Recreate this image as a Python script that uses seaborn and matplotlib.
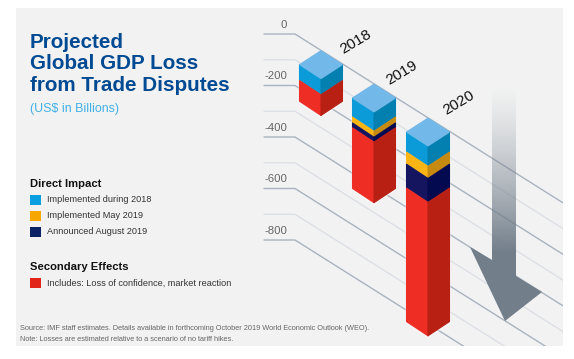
import numpy as np
import pandas as pd
import matplotlib.pyplot as plt
import matplotlib.transforms as mtransforms
from matplotlib.patches import Rectangle, Polygon
from matplotlib.colors import to_rgb
import seaborn as sns

# stack sizes, US$ billions lost
years = ["2018", "2019", "2020"]
during_2018 = [62, 74, 78]
may_2019 = [0, 23, 47]
august_2019 = [0, 19, 93]
secondary = [82, 237, 520]

grid_major = [0, -200, -400, -600, -800]
grid_minor = [-100, -300, -500, -700]

legend_labels = ["Implemented during 2018", "Implemented May 2019", "Announced August 2019",
                 "Includes: Loss of confidence, market reaction"]
legend_colors = ["#0a9fdf", "#f7a800", "#0b2265", "#e1251b"]

sns.set_theme(style="white")
plt.rcParams["font.family"] = ["Liberation Sans", "DejaVu Sans"]

fig, ax = plt.subplots(figsize=(5.74, 3.59), dpi=100)
fig.subplots_adjust(0, 0, 1, 1)
ax.set_axis_off()

# value axis: x in pixels, y in billions at the left end of the grid lines
scale = 0.2575
ax.set_xlim(0, 574)
ylim = ((34 - 359) / scale, 34 / scale)

# pixel coordinates for the furniture around the chart
px = mtransforms.Affine2D().scale(1, -1).translate(0, 359)

panel = Rectangle((16, 8), 547, 338, color="#f2f2f2", lw=0, transform=px, zorder=0)
ax.add_patch(panel)

# grid lines, flat then running down to the right
slope = 0.63 / scale
knee = 295
rows = []
for kind, vals in [("major", grid_major), ("minor", grid_minor)]:
    for v in vals:
        for x in [264, knee, 640]:
            rows.append({"x": x, "y": v - max(x - knee, 0) * slope, "line": v, "kind": kind})
grid_df = pd.DataFrame(rows)
sns.lineplot(data=grid_df, x="x", y="y", units="line", hue="kind", estimator=None, sort=False,
             palette={"major": "#a9b3bf", "minor": "#dce0e5"}, lw=1, legend=False, ax=ax, zorder=1)
for line in ax.lines:
    line.set_clip_path(panel)

for v in grid_major:
    ax.annotate(str(v), xy=(287, v), xytext=(0, 9.5), textcoords="offset pixels", ha="right", va="center",
                fontsize=8.2, color="#666666", zorder=2)

# big arrow behind the last bar
arrow_rgb = to_rgb("#727e8a")
fade = np.linspace(0, 1, 200).reshape(-1, 1) ** 1.3
shaft = np.dstack([np.full_like(fade, c) for c in arrow_rgb] + [fade])
ax.imshow(shaft, extent=(492, 516, 253, 85), transform=px, aspect="auto", zorder=2)
ax.add_patch(Polygon([(492, 253), (492, 260), (470, 247), (505, 321), (542, 292), (516, 276), (516, 253)],
                     color="#727e8a", lw=0, transform=px, zorder=2))

# isometric stacked bars
centers = [321, 374, 428]
half_w = 22
cap_h = 28.5
stacks = [(during_2018, "#0a9bd8", "#0480b0"),
          (may_2019, "#fdb515", "#c68a10"),
          (august_2019, "#14145f", "#030a50"),
          (secondary, "#ee2d24", "#b92014")]
cap_color = "#72b8e8"

for i, cx in enumerate(centers):
    back = -(cx - knee) * slope
    front = back - cap_h / scale
    side = front + cap_h / 2 / scale
    bar_total = sum(s[0][i] for s in stacks)
    ax.fill([cx - half_w - 1, cx, cx + half_w + 1, cx + half_w + 1, cx, cx - half_w - 1],
            [side, front, side, side - bar_total - 1 / scale, front - bar_total - 2 / scale, side - bar_total - 1 / scale],
            color="#ffffff", alpha=0.4, lw=0, zorder=3)
    total = 0
    for vals, left_c, right_c in stacks:
        v = vals[i]
        if v == 0:
            continue
        lo = total + v
        # round joins soften the corners at the foot of the bar
        ax.fill([cx - half_w + 0.5, cx, cx, cx - half_w + 0.5],
                [side - total, front - total, front - lo + 0.5 / scale, side - lo + 0.5 / scale],
                color=left_c, lw=0.8, zorder=3, joinstyle="round")
        ax.fill([cx + half_w - 0.5, cx, cx, cx + half_w - 0.5],
                [side - total, front - total, front - lo + 0.5 / scale, side - lo + 0.5 / scale],
                color=right_c, lw=0.8, zorder=3, joinstyle="round")
        total = lo
    ax.fill([cx, cx + half_w - 1.5, cx, cx - half_w + 1.5],
            [back - 1 / scale, side, front + 1 / scale, side],
            facecolor=cap_color, edgecolor=cap_color, lw=1.6, zorder=4, joinstyle="round")

ax.set_ylim(*ylim)
ax.set_xlim(0, 574)

# year labels along the top grid line
year_pos = [(356, 41.5), (402, 73), (459, 103)]
for label, (x, y) in zip(years, year_pos):
    ax.text(x, y, label, transform=px, rotation=31, ha="center", va="center", rotation_mode="anchor",
            fontsize=11, color="#111111", zorder=5)

# title block
title_lines = ["Projected", "Global GDP Loss", "from Trade Disputes"]
for line, y in zip(title_lines, [42, 63.5, 85.5]):
    ax.text(30, y, line, transform=px, fontsize=14.9, fontweight="bold", color="#004a93", va="center")
ax.text(30, 109, "(US$ in Billions)", transform=px, fontsize=8.9, color="#3fb0e8", va="center")

# legend squares and labels
legend_df = pd.DataFrame({"x": [35.5] * 4, "y": [200, 216, 232, 283], "label": legend_labels})
sns.scatterplot(data=legend_df, x="x", y="y", hue="label", palette=dict(zip(legend_labels, legend_colors)),
                marker="s", s=62, linewidth=0, legend=False, transform=px, ax=ax, zorder=4)
ax.set_ylim(*ylim)
ax.set_xlim(0, 574)
ax.set_axis_off()

ax.text(30, 184, "Direct Impact", transform=px, fontsize=8.1, fontweight="bold", color="#111111", va="center")
ax.text(30, 267, "Secondary Effects", transform=px, fontsize=8.1, fontweight="bold", color="#111111", va="center")
for label, y in zip(legend_labels, legend_df["y"]):
    ax.text(47, y, label, transform=px, fontsize=6.6, color="#333333", va="center")

ax.text(20, 329, "Source: IMF staff estimates. Details available in forthcoming October 2019 World Economic Outlook (WEO).",
        transform=px, fontsize=5.3, color="#666666", va="center")
ax.text(20, 339.5, "Note: Losses are estimated relative to a scenario of no tariff hikes.",
        transform=px, fontsize=5.3, color="#666666", va="center")

fig.savefig("out.png", dpi=100)
